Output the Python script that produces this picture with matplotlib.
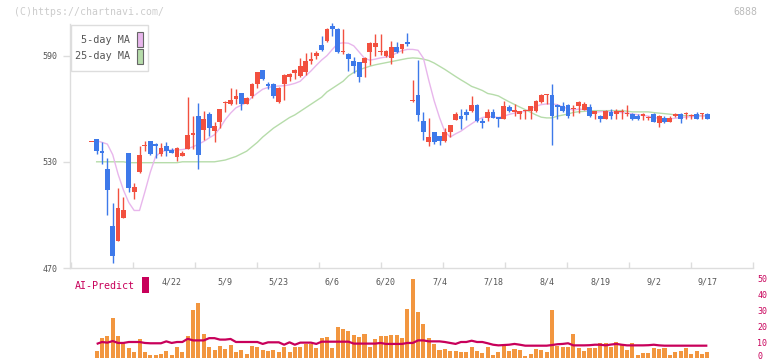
import matplotlib
matplotlib.use('Agg')
import matplotlib.pyplot as plt
import numpy as np
from matplotlib.patches import Rectangle
from matplotlib.transforms import blended_transform_factory, ScaledTranslation

# ---------------- data ----------------
opens = [541.0, 543, 536.3, 526, 494, 485, 498, 535, 513, 524.5,
         539, 541.5, 540.3, 534.4, 539, 536.7, 532.6, 533.5, 537.5, 545,
         556, 547.8, 557.2, 547.4, 552.7, 563, 562.5, 565.7, 569, 562.5,
         567.4, 573.8, 582, 574.2, 574.2, 563.6, 574, 578, 580.4, 578.7,
         580.6, 586.8, 589.6, 596.2, 598.5, 607, 605.2, 592, 591.1, 587.2,
         586.2, 585.7, 591.9, 594.7, 592, 589.6, 588.5, 594.9, 593.6, 597.9,
         564.5, 568, 553.3, 541.2, 546.9, 544.4, 541.6, 546.7, 553.8, 555.9,
         558.4, 558.5, 562.3, 553.3, 554.6, 558.4, 555.2, 554.4, 561, 558.4,
         556.9, 558.8, 558.5, 558.5, 563.6, 567.8, 568, 562.3, 561.4, 562.3,
         559.8, 561.7, 559.5, 561, 556.9, 556.1, 554.4, 558.2, 556.9, 558.1,
         557.2, 557.2, 556.1, 555.7, 554.7, 557.2, 551.8, 554.8, 552.7, 555.7,
         557.2, 557.1, 556, 557.2, 557.1, 557.2]
highs = [541.3, 543, 541, 532, 507, 515.4, 510, 535, 518, 539,
         542, 541.5, 540.5, 540.7, 541.4, 538, 538.5, 536, 566.5, 556,
         563, 558.5, 558, 552.3, 560, 564.4, 571.7, 571, 569, 566.5,
         574.5, 581, 582.1, 575.3, 574.5, 572, 579.5, 580.2, 582.3, 588.7,
         591.5, 592, 592.8, 601.3, 605.5, 608.5, 605.5, 605, 591.5, 589.1,
         586.5, 589, 597.5, 602, 602, 593, 598, 597.9, 596.5, 602.8,
         576, 587.4, 558.4, 555, 547, 544.5, 549.1, 551, 558.4, 560,
         560, 567.4, 562.5, 554.6, 560, 560, 555.5, 564.2, 562.3, 562.7,
         558.6, 559, 561.5, 565, 568.2, 568.1, 574.2, 562.5, 564, 562.5,
         562.3, 564.2, 564, 562.9, 558.6, 556.2, 559, 560, 559.9, 560,
         562.3, 557.3, 557.2, 557.3, 556, 557.3, 556.2, 556, 556, 557.3,
         557.3, 558.2, 557.2, 558.2, 557.3, 557.3]
lows = [541.0, 534.5, 528.6, 500, 473, 485, 498, 513, 509, 523.5,
        536, 534, 532, 533.5, 533, 535, 530.3, 533, 537, 537,
        526, 542.5, 544.8, 541, 549, 558, 562, 562.5, 559.5, 562.5,
        566, 571.7, 576, 571.2, 566, 563, 565, 575.7, 576.8, 578,
        579, 585, 588.3, 592.4, 597.5, 601.3, 591.5, 591, 581.5, 580.2,
        575, 578, 584.5, 589.6, 590.5, 589, 585.3, 591.5, 591.5, 595.3,
        563.8, 553, 542.5, 538.8, 540.3, 539.7, 541, 544, 553.5, 548.6,
        553.8, 558, 552.5, 549, 553, 554.5, 549.7, 554, 558, 555.7,
        554.4, 554.2, 554.2, 558, 563, 562.7, 539.7, 554.4, 558, 554.5,
        555.7, 557.6, 559, 555.5, 554.4, 552.7, 554, 554.4, 554.4, 554.4,
        555.7, 553.8, 553.8, 553.8, 553.8, 552.5, 549.5, 552, 552.7, 555.5,
        551.8, 554.4, 554.4, 554.3, 554.4, 554.4]
closes = [541.3, 536, 534.8, 514, 476.6, 504, 503, 515, 515.5, 534,
          539.3, 534.5, 539, 538, 536, 535, 538, 535.2, 545.4, 546,
          533.7, 554, 549, 550, 559.9, 563.3, 565, 567.4, 562.5, 566.3,
          574.2, 581, 576.8, 573, 567, 571.9, 579.3, 579.6, 582.1, 584.3,
          587.2, 588.3, 591.3, 593.4, 605.2, 605, 591.9, 592.2, 587.8, 584.3,
          577.8, 588.7, 597.3, 597.3, 592.2, 592.8, 594.9, 591.9, 596.4, 596.8,
          565, 556.7, 546.7, 544.2, 541, 541.6, 546.9, 550.8, 557.2, 554.4,
          556.7, 562.3, 552.9, 551.8, 558.4, 554.6, 554.2, 561.4, 558.5, 558.6,
          558.5, 559, 561.4, 564.2, 568, 568, 555.7, 561, 558.5, 555.7,
          560, 564, 562.9, 555.7, 558.5, 554.4, 558.9, 555.7, 558.5, 558.3,
          557.4, 554.4, 554.4, 557.2, 554.9, 552.7, 556.1, 552.7, 554.8, 557.2,
          554.2, 557.3, 556.2, 554.4, 557.3, 554.4]

ma5 = [np.nan, 541.9, 541, 540, 534, 523, 514, 507, 502.5, 502.5,
       513, 524, 533, 535.5, 536.5, 536.7, 536.7, 536.9, 537.5, 538.5,
       540, 541.5, 543.5, 545.3, 549, 553.8, 557.5, 560.5, 562, 563.5,
       566.5, 568.8, 571, 572, 572.6, 572.8, 573, 573.5, 574.3, 575.5,
       578.5, 581.3, 584.5, 587.5, 590, 593.5, 596.8, 597.2, 597, 595.5,
       592, 588.5, 587.4, 588, 588.7, 589.2, 590, 591.5, 592.8, 593.5,
       593.5, 593, 588.5, 576, 564.5, 555, 547, 544, 545.8, 547.3,
       549.5, 551.5, 553.5, 555, 555.5, 555.5, 555, 555.7, 556.8, 557.5,
       558, 558.5, 560, 561.4, 562.3, 562.7, 562.7, 562.3, 561, 560,
       559.2, 559.8, 559.5, 558.6, 558, 558.3, 558.5, 558.2, 558, 557.8,
       557.5, 557, 556.6, 556.3, 555.8, 555, 554.6, 554.2, 554.3, 554.6,
       555, 555.3, 555.5, 555.7, 555.9, 556.1]
ma25 = [np.nan, 530, 530, 530, 530, 530, 530, 529.5, 529.5, 529.5,
        529.5, 529.5, 529.5, 529.5, 529.5, 529.5, 529.5, 530, 530, 530,
        530, 530, 530, 530, 530.5, 531, 532, 533, 534.5, 536,
        538.5, 541, 544, 546.5, 549, 551, 553, 555, 556.5, 558.5,
        560.5, 562.5, 564.5, 566.5, 569.5, 571.5, 573.5, 575.5, 578.5, 580.5,
        582, 583, 584, 584.8, 585.4, 586, 586.6, 587.2, 587.8, 588.4,
        588.7, 588.5, 588, 587.2, 585.8, 584, 582.2, 580.2, 578.2, 576.3,
        574.5, 572.6, 571.5, 570.3, 568.6, 568, 567.2, 565.5, 563.9, 562.4,
        560.9, 559.5, 558, 556.5, 555.2, 554.8, 554.8, 555.8, 556.4, 557,
        557.9, 558.3, 558.5, 558.8, 558.9, 558.9, 558.9, 558.9, 558.9, 558.9,
        558.6, 558.2, 558.2, 558.2, 558.2, 557.8, 557.5, 557.2, 556.9, 556.5,
        556.1, 556.1, 556.1, 556.1, 556.1, 556.1]

volume = [np.nan, 4.6, 12.7, 14.0, 25.2, 14.0, 9.6, 6.5, 4.0, 12.1,
          4.0, 2.1, 2.1, 2.7, 4.6, 2.1, 7.1, 4.0, 14.0, 30.2,
          34.6, 15.2, 7.1, 5.2, 7.7, 5.8, 8.3, 4.0, 5.2, 2.7,
          7.7, 7.1, 5.2, 4.6, 5.2, 4.0, 7.1, 4.0, 7.1, 7.1,
          9.0, 9.0, 6.5, 12.7, 13.3, 6.5, 19.6, 18.3, 17.1, 14.6,
          13.3, 15.2, 7.1, 12.1, 14.0, 14.0, 14.6, 14.6, 12.7, 30.8,
          49.6, 29.0, 21.5, 12.7, 9.0, 5.2, 5.8, 4.6, 4.6, 4.0,
          4.0, 7.1, 4.6, 3.3, 7.1, 2.1, 4.0, 7.7, 4.6, 5.8,
          5.2, 1.5, 2.7, 5.8, 5.2, 4.0, 30.2, 7.7, 7.1, 7.1,
          15.2, 6.5, 4.6, 6.5, 6.5, 9.6, 9.6, 7.1, 10.2, 8.3,
          5.2, 9.6, 2.1, 3.3, 3.3, 6.5, 5.8, 6.5, 2.1, 4.0,
          4.6, 6.5, 2.7, 4.6, 2.7, 4.0]
ai_predict = [np.nan, 8.8, 10.0, 9.6, 10.6, 9.4, 9.4, 10.0, 10.0, 10.0,
              9.4, 9.2, 9.2, 9.2, 10.4, 9.4, 10.0, 10.0, 12.0, 11.0,
              11.0, 11.0, 12.4, 12.4, 11.5, 11.5, 11.9, 10.0, 10.0, 10.0,
              10.0, 10.0, 8.8, 9.8, 9.8, 9.8, 8.3, 9.8, 8.3, 9.6,
              9.6, 9.6, 8.8, 10.2, 10.2, 10.2, 10.2, 10.2, 10.2, 9.0,
              9.0, 9.0, 9.0, 9.0, 9.4, 8.8, 8.8, 8.8, 8.8, 9.4,
              9.4, 11.0, 11.0, 10.4, 10.4, 10.4, 10.0, 9.4, 8.8, 10.0,
              10.0, 10.8, 10.0, 10.0, 9.2, 8.3, 7.9, 8.1, 8.3, 8.8,
              8.3, 7.7, 7.7, 7.7, 7.7, 7.7, 8.1, 8.6, 8.8, 9.2,
              7.9, 7.9, 7.9, 8.0, 8.3, 8.3, 7.9, 8.4, 8.8, 8.3,
              7.9, 7.9, 7.9, 7.9, 8.0, 8.3, 7.9, 7.7, 7.7, 7.7,
              7.7, 7.7, 7.7, 7.7, 7.7, 7.7]

date_labels = ['4/22', '5/9', '5/23', '6/6', '6/20', '7/4', '7/18', '8/4', '8/19', '9/2', '9/17']
date_label_index = [15, 25, 35, 45, 55, 65, 75, 85, 95, 105, 115]
price_ticks = [470, 530, 590]
volume_ticks = [0, 10, 20, 30, 40, 50]

# ---------------- style ----------------
RED = '#f2503f'
BLUE = '#3d79ea'
ORANGE = '#f2963f'
MAGENTA = '#c8005a'
PINK = '#e8b6ec'
GREEN = '#b6dcaa'
GRID = '#dddddd'
MONO = 'DejaVu Sans Mono'

W, H = 772, 361
fig = plt.figure(figsize=(W / 100, H / 100), dpi=100)


def rect(x0, y0, x1, y1):
    return [x0 / W, 1 - y1 / H, (x1 - x0) / W, (y1 - y0) / H]


PX = 5.357      # pixels per candle
X0 = 91.3       # pixel of first candle
xlim = ((70 - X0) / PX, (753 - X0) / PX)

ax = fig.add_axes(rect(70, 24, 753, 268))
ax2 = fig.add_axes(rect(70, 270, 753, 358))

idx = np.arange(len(opens))
o = np.array(opens); h = np.array(highs); l = np.array(lows); c = np.array(closes)
col = np.where(c >= o, RED, BLUE)

ax.plot(idx, ma25, color=GREEN, lw=1.0, zorder=2)
ax.plot(idx, ma5, color=PINK, lw=1.0, zorder=2)
ax.vlines(idx, l, h, colors=col, lw=1.0, zorder=3, clip_on=False)
body = np.maximum(np.abs(c - o), 0.6)
ax.bar(idx, body, bottom=np.minimum(o, c), width=0.9, color=col, lw=0, zorder=4, clip_on=False)

ax.set_xlim(*xlim)
ax.set_ylim(470, 470 + 244 / 1.77)
for s in ['top', 'right']:
    ax.spines[s].set_visible(False)
for s in ['left', 'bottom']:
    ax.spines[s].set_color(GRID)
    ax.spines[s].set_linewidth(1.0)
xt = [(71 + 62 * k - X0) / PX for k in range(12)]
ax.set_xticks(xt)
ax.set_xticklabels([])
ax.tick_params(axis='x', direction='in', length=4, color=GRID, width=1)
ax.set_yticks(price_ticks)
ax.set_yticklabels([str(v) for v in price_ticks], fontsize=6, family=MONO, color='#555555')
ax.tick_params(axis='y', direction='out', length=5, color=GRID, width=1, pad=4)

# lower panel
ax2.bar(idx, volume, width=0.75, color=ORANGE, lw=0, zorder=2)
ax2.plot(idx, ai_predict, color=MAGENTA, lw=1.6, zorder=3, solid_capstyle='butt')
ax2.set_xlim(*xlim)
ax2.set_ylim(0, 88 / 1.6)
for s in ax2.spines.values():
    s.set_visible(False)
ax2.set_xticks([])
ax2.yaxis.tick_right()
ax2.set_yticks(volume_ticks)
ax2.set_yticklabels([str(v) for v in volume_ticks], fontsize=6, family=MONO, color=MAGENTA)
ax2.tick_params(axis='y', length=0, pad=3)
zero_lbl = ax2.get_yticklabels()[0]
zero_lbl.set_transform(zero_lbl.get_transform() + ScaledTranslation(0, 2.0 / 72, fig.dpi_scale_trans))
tr = blended_transform_factory(ax2.transData, ax2.transAxes)
for i, lab in zip(date_label_index, date_labels):
    ax2.text(i, (358 - 282) / 88, lab, transform=tr, ha='center', va='center',
             fontsize=6, family=MONO, color='#555555')

# overlay in pixel coordinates
ov = fig.add_axes([0, 0, 1, 1], zorder=10)
ov.set_xlim(0, W)
ov.set_ylim(H, 0)
ov.axis('off')
ov.patch.set_visible(False)
ov.text(14, 12, '(C)https://chartnavi.com/', fontsize=7.1, family=MONO, color='#cccccc', va='center', ha='left')
ov.text(757, 12, '6888', fontsize=7.1, family=MONO, color='#bbbbbb', va='center', ha='right')
# legend box
ov.add_patch(Rectangle((70.5, 24.5), 77.5, 46.5, facecolor='white', edgecolor=GRID, lw=1))
ov.text(130, 40, '5-day MA', fontsize=7.3, family=MONO, color='#555555', va='center', ha='right')
ov.text(130, 56, '25-day MA', fontsize=7.3, family=MONO, color='#555555', va='center', ha='right')
ov.add_patch(Rectangle((136.5, 31.5), 6, 15, facecolor=PINK, edgecolor='#666666', lw=0.8))
ov.add_patch(Rectangle((136.5, 48.5), 6, 15, facecolor=GREEN, edgecolor='#666666', lw=0.8))
# AI-Predict label
ov.text(75, 286, 'AI-Predict', fontsize=7.2, family=MONO, color=MAGENTA, va='center', ha='left')
ov.add_patch(Rectangle((142, 277), 7, 16, facecolor=MAGENTA, edgecolor='none'))

fig.savefig('out.png', dpi=100)
